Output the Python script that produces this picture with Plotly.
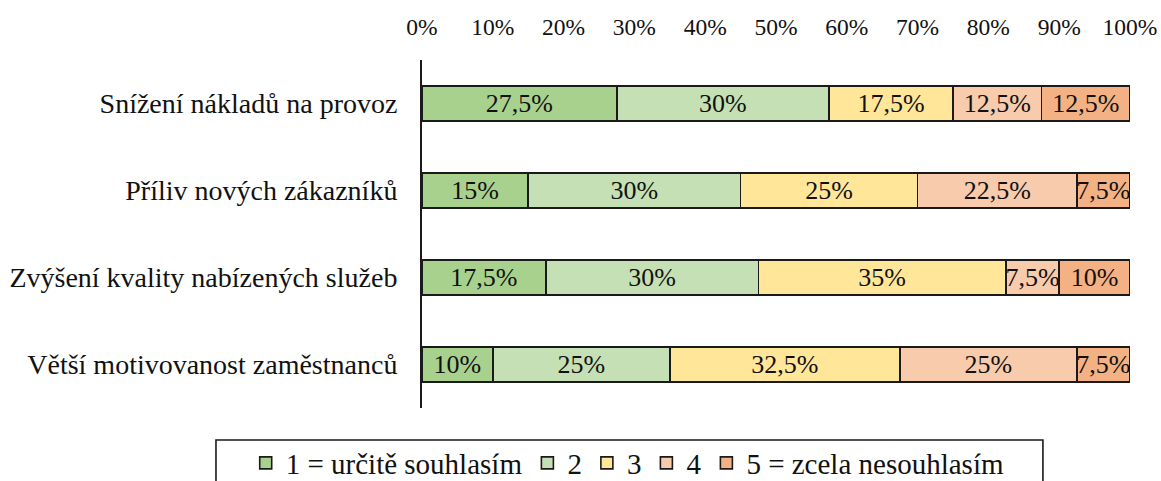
import plotly.graph_objects as go

# Survey statements (top to bottom)
statements = [
    "Snížení nákladů na provoz",
    "Příliv nových zákazníků",
    "Zvýšení kvality nabízených služeb",
    "Větší motivovanost zaměstnanců",
]

# Share of answers per level, in percent, one list per answer level
level_1 = [27.5, 15.0, 17.5, 10.0]
level_2 = [30.0, 30.0, 30.0, 25.0]
level_3 = [17.5, 25.0, 35.0, 32.5]
level_4 = [12.5, 22.5, 7.5, 25.0]
level_5 = [12.5, 7.5, 10.0, 7.5]

level_names = ["1 = určitě souhlasím", "2", "3", "4", "5 = zcela nesouhlasím"]
level_colors = ["#A9D18E", "#C5E0B4", "#FFE699", "#F8CBAD", "#F4B183"]

tick_vals = list(range(0, 101, 10))
tick_text = [f"{v}%" for v in tick_vals]

FONT = "Liberation Serif"


def pct_label(v):
    s = f"{v:g}".replace(".", ",")
    return s + "%"


fig = go.Figure()
for name, vals, color in zip(level_names, [level_1, level_2, level_3, level_4, level_5], level_colors):
    fig.add_trace(go.Bar(
        y=statements,
        x=vals,
        name=name,
        orientation="h",
        width=0.4,
        marker=dict(color=color, line=dict(color="#1a1a1a", width=1.6)),
        text=[pct_label(v) for v in vals],
        textposition="inside",
        insidetextanchor="middle",
        constraintext="none",
        textangle=0,
        textfont=dict(family=FONT, size=26, color="#111111"),
        hoverinfo="skip",
    ))

fig.update_layout(
    barmode="stack",
    width=1161,
    height=481,
    margin=dict(l=422, r=31, t=60, b=73, autoexpand=False),
    paper_bgcolor="white",
    plot_bgcolor="white",
    font=dict(family=FONT, size=23, color="#111111"),
    showlegend=True,
    legend=dict(
        orientation="h",
        x=-0.249,
        xanchor="left",
        y=-0.158,
        yanchor="middle",
        font=dict(family=FONT, size=29, color="#111111"),
        itemwidth=30,
        bgcolor="rgba(0,0,0,0)",
        borderwidth=0,
        traceorder="normal",
    ),
    xaxis=dict(
        side="top",
        range=[0, 100],
        tickvals=tick_vals,
        ticktext=tick_text,
        tickfont=dict(family=FONT, size=23.5),
        showgrid=False,
        zeroline=False,
        showline=False,
        ticks="",
        ticklabelstandoff=19,
        automargin=False,
        fixedrange=True,
    ),
    yaxis=dict(
        categoryorder="array",
        categoryarray=statements,
        autorange="reversed",
        tickfont=dict(family=FONT, size=28),
        showgrid=False,
        zeroline=False,
        showline=True,
        linecolor="#1a1a1a",
        linewidth=2,
        ticks="",
        ticklabelstandoff=17,
        automargin=False,
        fixedrange=True,
    ),
    shapes=[
        dict(
            type="rect",
            xref="paper", yref="paper",
            x0=-0.291, x1=0.877, y0=-0.092, y1=-0.26,
            line=dict(color="#1a1a1a", width=1.6),
            fillcolor="rgba(0,0,0,0)",
            layer="below",
        )
    ],
)

fig.write_html("out.html")
